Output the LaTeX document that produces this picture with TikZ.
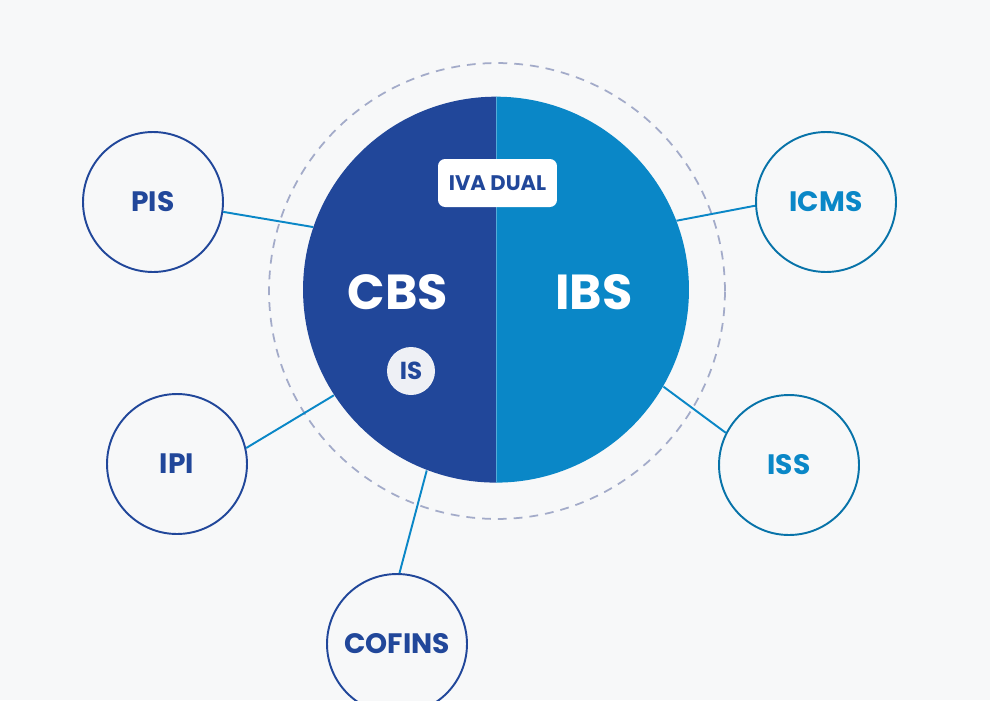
\documentclass[tikz,border=0pt]{standalone}
\usepackage{fontspec}
\setmainfont{Poppins}
\definecolor{taxdark}{HTML}{21479A}
\definecolor{taxlight}{HTML}{0A87C7}
\definecolor{ringgray}{HTML}{A3ABC9}
\definecolor{paper}{HTML}{F7F8F9}
\definecolor{chipfill}{HTML}{EEF0F5}

\begin{document}
\begin{tikzpicture}[x=0.02cm,y=-0.02cm,
  tax/.style={circle,draw,line width=1.1pt,fill=paper,minimum size=2.8cm,inner sep=0pt,font=\bfseries\fontsize{16}{16}\selectfont},
  old/.style={tax,draw=taxdark,text=taxdark},
  new/.style={tax,draw=taxlight!85!black,text=taxlight},
  link/.style={draw=taxlight,line width=1.1pt},
  half/.style={font=\bfseries\fontsize{28}{28}\selectfont,text=white}]
\fill[paper] (0,0) rectangle (990,700);
\clip (0,0) rectangle (990,700);
\draw[ringgray,line width=1pt,dash pattern=on 5pt off 4pt] (497,291) circle (4.56cm);
\node[circle,minimum size=7.72cm,inner sep=0pt] (core) at (496,290) {};
\fill[taxdark] (core.north) arc[start angle=90,end angle=270,radius=3.86cm] -- cycle;
\fill[taxlight] (core.north) arc[start angle=90,end angle=-90,radius=3.86cm] -- cycle;
\draw[taxlight!70!white,line width=0.5pt] (core.north) -- (core.south);
\node[half] (cbs) at (398,292) {CBS};
\node[half] (ibs) at (594,292) {IBS};
\node[fill=white,rounded corners=4pt,minimum width=2.38cm,minimum height=0.96cm,text=taxdark,font=\bfseries\fontsize{12}{12}\selectfont] (iva) at (497.5,183) {IVA DUAL};
\node[circle,fill=chipfill,minimum size=0.96cm,inner sep=0pt,text=taxdark,font=\bfseries\fontsize{14}{14}\selectfont] (is) at (411,371) {IS};
\node[old] (pis) at (153,202) {PIS};
\node[new] (icms) at (826,202) {ICMS};
\node[old] (ipi) at (177,464) {IPI};
\node[new] (iss) at (789,465) {ISS};
\node[old] (cofins) at (397,644) {COFINS};
\draw[link] (core.161) -- (pis.-8);
\draw[link] (core.21) -- (icms.183);
\draw[link] (core.-30) -- (iss.153);
\draw[link] (core.213) -- (ipi.13);
\draw[link] (core.249) -- (cofins.88);
\end{tikzpicture}
\end{document}
